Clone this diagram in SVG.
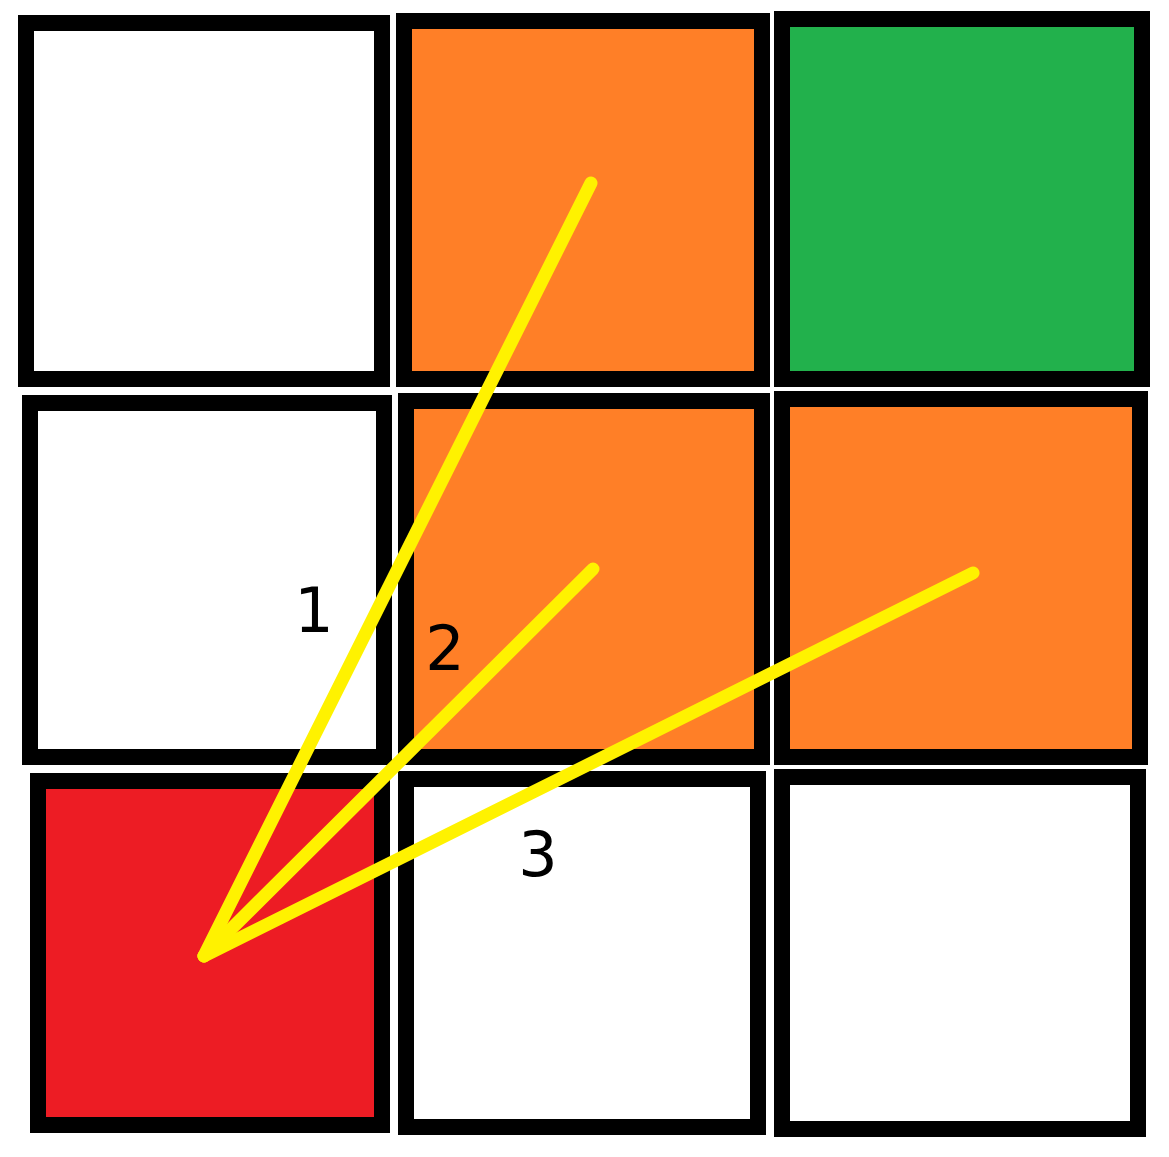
<svg xmlns="http://www.w3.org/2000/svg" width="1169" height="1157" viewBox="0 0 1169 1157">
<style>
.box{stroke:#000;stroke-width:16}
.w{fill:#fff}.o{fill:#FF7F27}.g{fill:#22B14C}.r{fill:#ED1C24}
.ln{stroke:#FFF200;stroke-width:13;stroke-linecap:round;fill:none}
.lbl{font-family:"DejaVu Sans",sans-serif;font-size:62px;fill:#000;text-anchor:middle}
</style>
<rect width="1169" height="1157" fill="#fff"/>
<g id="cell-1-1"><rect class="box w" x="26" y="23" width="356" height="356"/></g>
<g id="cell-1-2"><rect class="box o" x="404" y="21" width="358" height="358"/></g>
<g id="cell-1-3"><rect class="box g" x="782" y="19" width="360" height="360"/></g>
<g id="cell-2-1"><rect class="box w" x="30" y="403" width="354" height="354"/></g>
<g id="cell-2-2"><rect class="box o" x="406" y="401" width="356" height="356"/></g>
<g id="cell-2-3"><rect class="box o" x="782" y="399" width="358" height="358"/></g>
<g id="cell-3-1"><rect class="box r" x="38" y="781" width="344" height="344"/></g>
<g id="cell-3-2"><rect class="box w" x="406" y="779" width="352" height="348"/></g>
<g id="cell-3-3"><rect class="box w" x="782" y="777" width="356" height="352"/></g>
<g id="connectors">
<line class="ln" x1="591" y1="183" x2="204" y2="956"/>
<line class="ln" x1="593" y1="569" x2="204" y2="956"/>
<line class="ln" x1="973" y1="573" x2="204" y2="956"/>
</g>
<g id="labels">
<text class="lbl" x="314" y="632">1</text>
<text class="lbl" x="445" y="670">2</text>
<text class="lbl" x="538" y="876">3</text>
</g>
</svg>
